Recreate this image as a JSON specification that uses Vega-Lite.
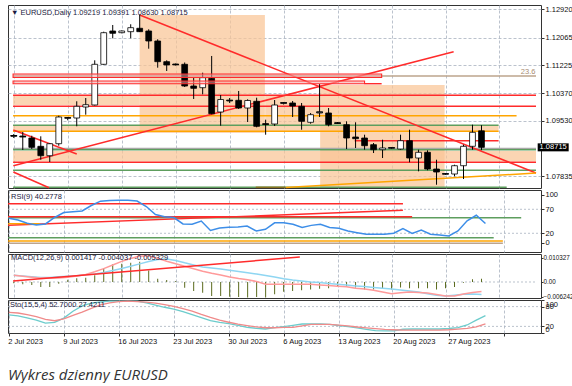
{
"$schema": "https://vega.github.io/schema/vega-lite/v6.json",
"padding": {"left": 5, "top": 4, "right": 0, "bottom": 0},
"background": "white",
"spacing": 2,
"bounds": "flush",
"title": {"text": "Wykres dzienny EURUSD", "orient": "bottom", "anchor": "start", "frame": "group", "font": "Open Sans", "fontSize": 15, "fontStyle": "italic", "fontWeight": "normal", "color": "#333333", "offset": 23},
"config": {
  "view": {"stroke": "#333333", "strokeWidth": 1},
  "axis": {"labelFont": "Liberation Sans", "labelFontSize": 7.5, "labelColor": "#111111", "gridColor": "#aab3c0", "gridDash": [3, 2], "gridWidth": 0.8, "tickColor": "#333333", "labelOverlap": false, "labelBound": false},
  "title": {"font": "Liberation Sans", "fontSize": 7.5, "fontWeight": "normal", "color": "#1a1a40", "anchor": "start", "frame": "group"}
},
"datasets": {
  "candles": [
    {"i":0,"o":1.09046,"h":1.09122,"l":1.09000,"c":1.09076},
    {"i":1,"o":1.09061,"h":1.09183,"l":1.08634,"c":1.09037},
    {"i":2,"o":1.09000,"h":1.09070,"l":1.08664,"c":1.08716},
    {"i":3,"o":1.08747,"h":1.09052,"l":1.08338,"c":1.08460},
    {"i":4,"o":1.08460,"h":1.08847,"l":1.08268,"c":1.08826},
    {"i":5,"o":1.08826,"h":1.09680,"l":1.08765,"c":1.09641},
    {"i":6,"o":1.09601,"h":1.09641,"l":1.09540,"c":1.09619},
    {"i":7,"o":1.09610,"h":1.10120,"l":1.09357,"c":1.09967},
    {"i":8,"o":1.09946,"h":1.10220,"l":1.09711,"c":1.10016},
    {"i":9,"o":1.10007,"h":1.11370,"l":1.09991,"c":1.11248},
    {"i":10,"o":1.11248,"h":1.12243,"l":1.11233,"c":1.12212},
    {"i":11,"o":1.12264,"h":1.12447,"l":1.12041,"c":1.12194},
    {"i":12,"o":1.12212,"h":1.12279,"l":1.12194,"c":1.12264},
    {"i":13,"o":1.12243,"h":1.12469,"l":1.12041,"c":1.12365},
    {"i":14,"o":1.12347,"h":1.12752,"l":1.12234,"c":1.12243},
    {"i":15,"o":1.12264,"h":1.12316,"l":1.11724,"c":1.11959},
    {"i":16,"o":1.11959,"h":1.12011,"l":1.11145,"c":1.11328},
    {"i":17,"o":1.11328,"h":1.11370,"l":1.11044,"c":1.11227},
    {"i":18,"o":1.11257,"h":1.11273,"l":1.11212,"c":1.11236},
    {"i":19,"o":1.11248,"h":1.11303,"l":1.10556,"c":1.10586},
    {"i":20,"o":1.10586,"h":1.10840,"l":1.10190,"c":1.10516},
    {"i":21,"o":1.10534,"h":1.10992,"l":1.10333,"c":1.10840},
    {"i":22,"o":1.10821,"h":1.11502,"l":1.09723,"c":1.09741},
    {"i":23,"o":1.09793,"h":1.10312,"l":1.09375,"c":1.10174},
    {"i":24,"o":1.10129,"h":1.10220,"l":1.10068,"c":1.10150},
    {"i":25,"o":1.10150,"h":1.10434,"l":1.09885,"c":1.09915},
    {"i":26,"o":1.09915,"h":1.10181,"l":1.09488,"c":1.10144},
    {"i":27,"o":1.10120,"h":1.10229,"l":1.09326,"c":1.09357},
    {"i":28,"o":1.09436,"h":1.09558,"l":1.09101,"c":1.09418},
    {"i":29,"o":1.09427,"h":1.10159,"l":1.09366,"c":1.10007},
    {"i":30,"o":1.10052,"h":1.10098,"l":1.10022,"c":1.10077},
    {"i":31,"o":1.10068,"h":1.10129,"l":1.09641,"c":1.09976},
    {"i":32,"o":1.09967,"h":1.10068,"l":1.09253,"c":1.09509},
    {"i":33,"o":1.09479,"h":1.09763,"l":1.09436,"c":1.09711},
    {"i":34,"o":1.09763,"h":1.10647,"l":1.09641,"c":1.09793},
    {"i":35,"o":1.09763,"h":1.09915,"l":1.09357,"c":1.09406},
    {"i":36,"o":1.09467,"h":1.09488,"l":1.09427,"c":1.09448},
    {"i":37,"o":1.09406,"h":1.09509,"l":1.08664,"c":1.09000},
    {"i":38,"o":1.09030,"h":1.09479,"l":1.08695,"c":1.08979},
    {"i":39,"o":1.09000,"h":1.09101,"l":1.08643,"c":1.08765},
    {"i":40,"o":1.08796,"h":1.08847,"l":1.08542,"c":1.08643},
    {"i":41,"o":1.08643,"h":1.08948,"l":1.08390,"c":1.08695},
    {"i":42,"o":1.08686,"h":1.08725,"l":1.08664,"c":1.08704},
    {"i":43,"o":1.08664,"h":1.09101,"l":1.08643,"c":1.08918},
    {"i":44,"o":1.08918,"h":1.09253,"l":1.08259,"c":1.08390},
    {"i":45,"o":1.08390,"h":1.08643,"l":1.07984,"c":1.08564},
    {"i":46,"o":1.08564,"h":1.08625,"l":1.08015,"c":1.08054},
    {"i":47,"o":1.08054,"h":1.08338,"l":1.07575,"c":1.07963},
    {"i":48,"o":1.07893,"h":1.07932,"l":1.07871,"c":1.07911},
    {"i":49,"o":1.07902,"h":1.08186,"l":1.07832,"c":1.08155},
    {"i":50,"o":1.08155,"h":1.08796,"l":1.07749,"c":1.08747},
    {"i":51,"o":1.08747,"h":1.09406,"l":1.08643,"c":1.09174},
    {"i":52,"o":1.09219,"h":1.09391,"l":1.08630,"c":1.08715}
  ],
  "ind": [
    {"i":0,"rsi":51.3,"macd":0.00288,"sig":0.00288,"hist":-0.00056,"k":54.8,"d":62.2},
    {"i":1,"rsi":47.7,"macd":0.00250,"sig":0.00258,"hist":-0.00099,"k":52.2,"d":60.6},
    {"i":2,"rsi":40.8,"macd":0.00207,"sig":0.00228,"hist":-0.00129,"k":46.1,"d":55.5},
    {"i":3,"rsi":37.3,"macd":0.00172,"sig":0.00198,"hist":-0.00215,"k":38.8,"d":49.4},
    {"i":4,"rsi":39.4,"macd":0.00168,"sig":0.00198,"hist":-0.00215,"k":29.8,"d":41.6},
    {"i":5,"rsi":52.9,"macd":0.00176,"sig":0.00224,"hist":-0.00073,"k":32.3,"d":37.1},
    {"i":6,"rsi":63.3,"macd":0.00202,"sig":0.00245,"hist":0.00100,"k":45.2,"d":42.6},
    {"i":7,"rsi":65.0,"macd":0.00258,"sig":0.00271,"hist":0.00159,"k":66.1,"d":53.5},
    {"i":8,"rsi":66.5,"macd":0.00323,"sig":0.00310,"hist":0.00185,"k":82.1,"d":63.2},
    {"i":9,"rsi":77.9,"macd":0.00443,"sig":0.00344,"hist":0.00288,"k":90.2,"d":74.4},
    {"i":10,"rsi":86.9,"macd":0.00577,"sig":0.00413,"hist":0.00590,"k":94.0,"d":85.0},
    {"i":11,"rsi":88.3,"macd":0.00731,"sig":0.00495,"hist":0.00760,"k":96.3,"d":91.1},
    {"i":12,"rsi":88.8,"macd":0.00886,"sig":0.00581,"hist":0.00790,"k":96.6,"d":95.0},
    {"i":13,"rsi":88.8,"macd":0.01011,"sig":0.00676,"hist":0.00830,"k":96.6,"d":96.6},
    {"i":14,"rsi":87.3,"macd":0.01119,"sig":0.00779,"hist":0.00870,"k":96.6,"d":95.3},
    {"i":15,"rsi":75.8,"macd":0.01119,"sig":0.00878,"hist":0.00500,"k":91.1,"d":93.4},
    {"i":16,"rsi":59.2,"macd":0.01024,"sig":0.00972,"hist":0.00140,"k":84.4,"d":90.5},
    {"i":17,"rsi":54.6,"macd":0.00890,"sig":0.00990,"hist":0.00090,"k":78.0,"d":86.0},
    {"i":18,"rsi":52.7,"macd":0.00783,"sig":0.00929,"hist":0.00040,"k":72.5,"d":80.8},
    {"i":19,"rsi":39.4,"macd":0.00676,"sig":0.00826,"hist":-0.00245,"k":64.5,"d":73.8},
    {"i":20,"rsi":38.8,"macd":0.00568,"sig":0.00736,"hist":-0.00387,"k":55.8,"d":66.4},
    {"i":21,"rsi":45.6,"macd":0.00465,"sig":0.00645,"hist":-0.00460,"k":46.8,"d":56.4},
    {"i":22,"rsi":25.8,"macd":0.00374,"sig":0.00602,"hist":-0.00600,"k":37.8,"d":47.1},
    {"i":23,"rsi":31.0,"macd":0.00297,"sig":0.00555,"hist":-0.00600,"k":32.3,"d":38.8},
    {"i":24,"rsi":32.5,"macd":0.00219,"sig":0.00503,"hist":-0.00630,"k":28.5,"d":32.6},
    {"i":25,"rsi":33.3,"macd":0.00151,"sig":0.00448,"hist":-0.00650,"k":23.3,"d":26.9},
    {"i":26,"rsi":35.2,"macd":0.00095,"sig":0.00396,"hist":-0.00670,"k":16.9,"d":22.4},
    {"i":27,"rsi":24.8,"macd":0.00022,"sig":0.00344,"hist":-0.00650,"k":14.3,"d":18.5},
    {"i":28,"rsi":28.3,"macd":-0.00095,"sig":0.00275,"hist":-0.00670,"k":12.1,"d":15.9},
    {"i":29,"rsi":41.9,"macd":-0.00099,"sig":0.00211,"hist":-0.00530,"k":16.3,"d":15.9},
    {"i":30,"rsi":42.1,"macd":-0.00099,"sig":0.00142,"hist":-0.00420,"k":19.5,"d":16.9},
    {"i":31,"rsi":38.8,"macd":-0.00099,"sig":0.00086,"hist":-0.00390,"k":23.3,"d":17.2},
    {"i":32,"rsi":31.9,"macd":-0.00099,"sig":0.00047,"hist":-0.00360,"k":27.2,"d":21.4},
    {"i":33,"rsi":36.5,"macd":-0.00099,"sig":0.00004,"hist":-0.00320,"k":27.8,"d":25.9},
    {"i":34,"rsi":38.8,"macd":-0.00125,"sig":-0.00026,"hist":-0.00290,"k":27.2,"d":25.9},
    {"i":35,"rsi":31.9,"macd":-0.00155,"sig":-0.00065,"hist":-0.00270,"k":25.9,"d":25.9},
    {"i":36,"rsi":30.4,"macd":-0.00181,"sig":-0.00099,"hist":-0.00220,"k":22.7,"d":24.0},
    {"i":37,"rsi":24.8,"macd":-0.00207,"sig":-0.00133,"hist":-0.00220,"k":19.2,"d":21.7},
    {"i":38,"rsi":21.3,"macd":-0.00271,"sig":-0.00168,"hist":-0.00240,"k":15.3,"d":18.2},
    {"i":39,"rsi":18.1,"macd":-0.00306,"sig":-0.00198,"hist":-0.00320,"k":11.1,"d":15.6},
    {"i":40,"rsi":17.9,"macd":-0.00357,"sig":-0.00232,"hist":-0.00320,"k":7.3,"d":13.4},
    {"i":41,"rsi":17.9,"macd":-0.00430,"sig":-0.00267,"hist":-0.00270,"k":6.6,"d":11.1},
    {"i":42,"rsi":20.0,"macd":-0.00503,"sig":-0.00306,"hist":-0.00320,"k":6.6,"d":9.8},
    {"i":43,"rsi":29.6,"macd":-0.00465,"sig":-0.00344,"hist":-0.00240,"k":11.4,"d":8.9},
    {"i":44,"rsi":19.6,"macd":-0.00430,"sig":-0.00387,"hist":-0.00270,"k":12.1,"d":8.9},
    {"i":45,"rsi":26.9,"macd":-0.00456,"sig":-0.00426,"hist":-0.00270,"k":12.1,"d":8.9},
    {"i":46,"rsi":18.1,"macd":-0.00478,"sig":-0.00508,"hist":-0.00270,"k":12.1,"d":8.9},
    {"i":47,"rsi":16.5,"macd":-0.00542,"sig":-0.00568,"hist":-0.00320,"k":12.1,"d":8.9},
    {"i":48,"rsi":14.4,"macd":-0.00602,"sig":-0.00602,"hist":-0.00270,"k":13.7,"d":9.8},
    {"i":49,"rsi":24.8,"macd":-0.00598,"sig":-0.00568,"hist":-0.00220,"k":16.3,"d":11.8},
    {"i":50,"rsi":46.0,"macd":-0.00521,"sig":-0.00529,"hist":-0.00030,"k":24.3,"d":14.3},
    {"i":51,"rsi":57.5,"macd":-0.00452,"sig":-0.00516,"hist":0.00120,"k":38.8,"d":18.8},
    {"i":52,"rsi":40.28,"macd":-0.00404,"sig":-0.00533,"hist":0.00142,"k":52.7,"d":27.42}
  ],
  "zones": [
    {"x1":13.99,"x2":27.92,"p1":1.12752,"p2":1.09152},
    {"x1":-0.08,"x2":14.0,"p1":1.10281,"p2":1.10007},
    {"x1":-0.08,"x2":53.9,"p1":1.09387,"p2":1.09183},
    {"x1":-0.08,"x2":58.06,"p1":1.08603,"p2":1.08283},
    {"x1":34.06,"x2":47.9,"p1":1.10617,"p2":1.07475},
    {"x1":27.95,"x2":34.06,"p1":1.10281,"p2":1.09397}
  ],
  "bands": [
    {"x1":-0.08,"x2":40.9,"p1":1.10952,"p2":1.10846},
    {"x1":-0.08,"x2":39.0,"p1":1.10739,"p2":1.10656}
  ],
  "lines": [
    {"kind":"resistance","x1":39.0,"x2":40.9,"p1":1.10656,"p2":1.10656},
    {"kind":"fibonacci","x1":-0.08,"x2":58.06,"p1":1.10891,"p2":1.10891},
    {"kind":"resistance","x1":-0.08,"x2":58.06,"p1":1.10303,"p2":1.10303},
    {"kind":"resistance","x1":-0.08,"x2":58.06,"p1":1.09967,"p2":1.09967},
    {"kind":"pivot","x1":-0.08,"x2":55.9,"p1":1.09680,"p2":1.09680},
    {"kind":"support","x1":-0.08,"x2":53.9,"p1":1.09387,"p2":1.09387},
    {"kind":"pivot","x1":-0.08,"x2":53.9,"p1":1.09204,"p2":1.09204},
    {"kind":"resistance","x1":37.9,"x2":53.9,"p1":1.08918,"p2":1.08918},
    {"kind":"bid","x1":-0.08,"x2":58.06,"p1":1.08680,"p2":1.08680},
    {"kind":"support","x1":-0.08,"x2":58.06,"p1":1.08640,"p2":1.08640},
    {"kind":"resistance","x1":-0.08,"x2":58.06,"p1":1.08259,"p2":1.08259},
    {"kind":"support","x1":-0.08,"x2":58.06,"p1":1.08015,"p2":1.08015},
    {"kind":"support","x1":-0.08,"x2":54.8,"p1":1.07496,"p2":1.07496},
    {"kind":"volume node","x1":26.9,"x2":30.2,"p1":1.07496,"p2":1.07496},
    {"kind":"trend","x1":14.0,"x2":58.06,"p1":1.12752,"p2":1.07932},
    {"kind":"trend","x1":-0.05,"x2":48.9,"p1":1.08155,"p2":1.11633},
    {"kind":"trend","x1":-0.05,"x2":7.0,"p1":1.09244,"p2":1.08512},
    {"kind":"trend","x1":-0.05,"x2":3.92,"p1":1.07963,"p2":1.07484},
    {"kind":"trend support","x1":30.24,"x2":58.06,"p1":1.0749,"p2":1.07932}
  ],
  "tags": [{"label":"1.08715","price":1.08715,"at":59.97}],
  "fib": [{"label":"23.6","price":1.10891,"at":58.0}],
  "rsiLines": [
    {"kind":"overbought","x1":-0.08,"x2":43,"v1":81.7,"v2":81.7},
    {"kind":"support","x1":-0.08,"x2":55.9,"v1":52.5,"v2":52.5},
    {"kind":"resistance","x1":-0.08,"x2":44,"v1":54.6,"v2":54.6},
    {"kind":"trend","x1":-0.08,"x2":43,"v1":36.7,"v2":67.9},
    {"kind":"pivot","x1":-0.08,"x2":3.35,"v1":40,"v2":40},
    {"kind":"oversold","x1":-0.08,"x2":52.9,"v1":10.8,"v2":10.8},
    {"kind":"level","x1":-0.08,"x2":53.9,"v1":4,"v2":4},
    {"kind":"floor","x1":-0.08,"x2":53.9,"v1":-0.8,"v2":-0.8}
  ],
  "rsiLevels": [{"v":70,"x1":-0.087,"x2":58.06},{"v":20,"x1":-0.087,"x2":58.06}],
  "stoLevels": [{"v":80,"x1":-0.087,"x2":58.06},{"v":20,"x1":-0.087,"x2":58.06}],
  "macdLevels": [{"v":0,"x1":-0.087,"x2":58.06}],
  "macdLines": [
    {"kind":"trend","x1":-0.08,"x2":31.8,"v1":0.00043,"v2":0.01076}
  ]
},
"vconcat": [
  {
    "width": 533, "height": 183,
    "title": {"text": "▼ EURUSD,Daily  1.09219 1.09391 1.08630 1.08715", "offset": -11, "dx": 3},
    "resolve": {"axis": {"y": "independent"}},
    "layer": [
      {"layer": [
        {"data": {"name": "zones"}, "mark": {"type": "rect", "color": "#f9c596", "opacity": 0.72},
         "encoding": {
           "x": {"field": "x1", "type": "quantitative", "title": null, "scale": {"domain": [-0.087, 58.06], "nice": false, "zero": false},
                 "axis": {"values": [0,3,6,9,12,15,18,21,24,27,30,33,36,39,42,45,48,51,54,57], "labels": false, "ticks": false, "domain": false, "grid": true, "title": null}},
           "x2": {"field": "x2"},
           "y": {"field": "p1", "type": "quantitative", "title": null, "scale": {"domain": [1.07475, 1.13057], "nice": false, "zero": false},
                 "axis": {"orient": "right", "values": [1.1292, 1.11225, 1.0953, 1.07835], "format": ".5f", "labelOverlap": false, "grid": true, "tickSize": 3, "domain": false, "labelPadding": 1, "labelFlush": false, "title": null}},
           "y2": {"field": "p2"}
         }},
        {"data": {"name": "lines"}, "mark": {"type": "rule"},
         "encoding": {
           "x": {"field": "x1", "type": "quantitative", "title": null},
           "x2": {"field": "x2"},
           "y": {"field": "p1", "type": "quantitative", "title": null},
           "y2": {"field": "p2"},
           "color": {"field": "kind", "type": "nominal", "legend": null, "scale": {"domain": ["resistance","support","pivot","fibonacci","trend","trend support","volume node","bid"], "range": ["#ff2b2b","#5e9e5e","#ffa500","#bda48c","#ff2b2b","#ffa500","#8a7420","#a8a8a8"]}},
           "strokeWidth": {"field": "kind", "type": "nominal", "legend": null, "scale": {"domain": ["resistance","support","pivot","fibonacci","trend","trend support","volume node","bid"], "range": [1.4,1.6,2,1.2,1.4,1.6,2.5,1]}}
         }},
        {"data": {"name": "candles"}, "mark": {"type": "rule", "color": "#000000", "strokeWidth": 1},
         "encoding": {
           "x": {"field": "i", "type": "quantitative", "title": null},
           "y": {"field": "l", "type": "quantitative", "title": null},
           "y2": {"field": "h"}
         }},
        {"data": {"name": "candles"}, "mark": {"type": "bar", "orient": "vertical", "size": 5.8, "stroke": "#000000", "strokeWidth": 0.8},
         "encoding": {
           "x": {"field": "i", "type": "quantitative", "title": null},
           "y": {"field": "o", "type": "quantitative", "title": null},
           "y2": {"field": "c"},
           "fill": {"condition": {"test": "datum.c >= datum.o", "value": "#ffffff"}, "value": "#000000"}
         }},
        {"data": {"name": "candles"}, "transform": [{"filter": "abs(datum.o - datum.c) < 0.0004"}],
         "mark": {"type": "tick", "orient": "horizontal", "size": 6.6, "thickness": 1, "color": "#000000", "opacity": 1},
         "encoding": {
           "x": {"field": "i", "type": "quantitative", "title": null},
           "y": {"field": "c", "type": "quantitative", "title": null}
         }},
        {"data": {"name": "fib"}, "mark": {"type": "text", "align": "right", "baseline": "bottom", "dy": -0.5, "font": "Liberation Sans", "fontSize": 7.5, "color": "#a88c72"},
         "encoding": {
           "x": {"field": "at", "type": "quantitative", "title": null},
           "y": {"field": "price", "type": "quantitative", "title": null},
           "text": {"field": "label"}
         }},
        {"data": {"name": "tags"}, "mark": {"type": "tick", "orient": "horizontal", "size": 31, "thickness": 8, "color": "#000000", "opacity": 1},
         "encoding": {
           "x": {"field": "at", "type": "quantitative", "title": null},
           "y": {"field": "price", "type": "quantitative", "title": null}
         }},
        {"data": {"name": "tags"}, "mark": {"type": "text", "align": "center", "baseline": "middle", "font": "Liberation Sans", "fontSize": 7.5, "color": "#ffffff"},
         "encoding": {
           "x": {"field": "at", "type": "quantitative", "title": null},
           "y": {"field": "price", "type": "quantitative", "title": null},
           "text": {"field": "label"}
         }}
      ]},
      {"data": {"name": "bands"}, "mark": {"type": "rect", "fill": "#f3a6a6", "fillOpacity": 0.55, "stroke": "#ff2b2b", "strokeWidth": 1.1},
       "encoding": {
         "x": {"field": "x1", "type": "quantitative", "title": null},
         "x2": {"field": "x2"},
         "y": {"field": "p1", "type": "quantitative", "title": null,
               "axis": {"orient": "right", "values": [1.12065, 1.1037], "format": ".5f", "labelOverlap": false, "grid": true, "tickSize": 3, "domain": false, "labelPadding": 1, "labelFlush": false, "title": null}},
         "y2": {"field": "p2"}
       }}
    ]
  },
  {
    "width": 533, "height": 62,
    "title": {"text": "RSI(9) 40.2778", "offset": -10.5, "dx": 3},
    "resolve": {"axis": {"y": "independent"}},
    "layer": [
      {"layer": [
        {"data": {"name": "rsiLevels"}, "mark": {"type": "rule", "color": "#aab3c0", "strokeDash": [2, 2], "strokeWidth": 0.8},
         "encoding": {
           "x": {"field": "x1", "type": "quantitative", "title": null, "scale": {"domain": [-0.087, 58.06], "nice": false, "zero": false},
                 "axis": {"values": [0,3,6,9,12,15,18,21,24,27,30,33,36,39,42,45,48,51,54,57], "labels": false, "ticks": false, "domain": false, "grid": true, "title": null}},
           "x2": {"field": "x2"},
           "y": {"field": "v", "type": "quantitative", "title": null, "scale": {"domain": [-19, 110.2], "nice": false, "zero": false},
                 "axis": {"orient": "right", "values": [100, 20], "labelOverlap": false, "grid": false, "tickSize": 3, "domain": false, "labelPadding": 1, "labelFlush": false, "title": null}}
         }},
        {"data": {"name": "rsiLines"}, "mark": {"type": "rule"},
         "encoding": {
           "x": {"field": "x1", "type": "quantitative", "title": null},
           "x2": {"field": "x2"},
           "y": {"field": "v1", "type": "quantitative", "title": null},
           "y2": {"field": "v2"},
           "color": {"field": "kind", "type": "nominal", "legend": null, "scale": {"domain": ["overbought","trend","resistance","support","pivot","oversold","level","floor"], "range": ["#ff8a6a","#ff2b2b","#a0522d","#5e9e5e","#ffb300","#ff8a6a","#f3e3b3","#b455e6"]}},
           "strokeWidth": {"field": "kind", "type": "nominal", "legend": null, "scale": {"domain": ["overbought","trend","resistance","support","pivot","oversold","level","floor"], "range": [2,1.5,2,1.6,2,2,2,2]}}
         }}
      ]},
      {"data": {"name": "ind"}, "mark": {"type": "line", "color": "#3d8ee8", "strokeWidth": 1.5},
       "encoding": {
         "x": {"field": "i", "type": "quantitative", "title": null},
         "y": {"field": "rsi", "type": "quantitative", "title": null,
               "axis": {"orient": "right", "values": [70, 0], "labelOverlap": false, "grid": false, "tickSize": 3, "domain": false, "labelPadding": 1, "labelFlush": false, "title": null}}
       }}
    ]
  },
  {
    "width": 533, "height": 44,
    "title": {"text": "MACD(12,26,9) 0.001417 -0.004037 -0.005329", "offset": -8.6, "dx": 3},
    "resolve": {"axis": {"y": "independent"}},
    "layer": [
      {"layer": [
        {"data": {"name": "macdLevels"}, "mark": {"type": "rule", "color": "#aab3c0", "strokeDash": [2, 2], "strokeWidth": 0.8},
         "encoding": {
           "x": {"field": "x1", "type": "quantitative", "title": null, "scale": {"domain": [-0.087, 58.06], "nice": false, "zero": false},
                 "axis": {"values": [0,3,6,9,12,15,18,21,24,27,30,33,36,39,42,45,48,51,54,57], "labels": false, "ticks": false, "domain": false, "grid": true, "title": null}},
           "x2": {"field": "x2"},
           "y": {"field": "v", "type": "quantitative", "title": null, "scale": {"domain": [-0.006885, 0.012048], "nice": false, "zero": false},
                 "axis": {"orient": "right", "values": [0.010327, -0.006242], "format": ".6f", "labelOverlap": false, "labelFontSize": 6.3, "grid": false, "tickSize": 2, "domain": false, "labelPadding": 0, "labelFlush": false, "title": null}}
         }},
        {"data": {"name": "ind"}, "mark": {"type": "bar", "orient": "vertical", "size": 1, "color": "#5b6b1f"},
         "encoding": {
           "x": {"field": "i", "type": "quantitative", "title": null},
           "y": {"field": "hist", "type": "quantitative", "title": null}
         }},
        {"data": {"name": "ind"}, "mark": {"type": "line", "color": "#8fd6f2", "strokeWidth": 1.5},
         "encoding": {
           "x": {"field": "i", "type": "quantitative", "title": null},
           "y": {"field": "sig", "type": "quantitative", "title": null}
         }},
        {"data": {"name": "ind"}, "mark": {"type": "line", "color": "#ff9a9a", "strokeWidth": 1.5},
         "encoding": {
           "x": {"field": "i", "type": "quantitative", "title": null},
           "y": {"field": "macd", "type": "quantitative", "title": null}
         }}
      ]},
      {"data": {"name": "macdLines"}, "mark": {"type": "rule", "color": "#ff2b2b", "strokeWidth": 1.5},
       "encoding": {
         "x": {"field": "x1", "type": "quantitative", "title": null},
         "x2": {"field": "x2"},
         "y": {"field": "v1", "type": "quantitative", "title": null,
               "axis": {"orient": "right", "values": [0], "format": ".2f", "labelOverlap": false, "labelFontSize": 6.3, "grid": false, "tickSize": 2, "domain": false, "labelPadding": 0, "labelFlush": false, "title": null}},
         "y2": {"field": "v2"}
       }}
    ]
  },
  {
    "width": 533, "height": 33,
    "title": {"text": "Sto(15,5,4) 52.7000 27.4211", "offset": -10.3, "dx": 2},
    "resolve": {"axis": {"y": "independent"}},
    "layer": [
      {"layer": [
        {"data": {"name": "stoLevels"}, "mark": {"type": "rule", "color": "#aab3c0", "strokeDash": [2, 2], "strokeWidth": 0.8},
         "encoding": {
           "x": {"field": "x1", "type": "quantitative", "title": null, "scale": {"domain": [-0.087, 58.06], "nice": false, "zero": false},
                 "axis": {"values": [0,3,6,9,12,15,18,21,24,27,30,33,36,39,42,45,48,51,54,57], "labelExpr": "datum.value % 6 == 0 ? ['2 Jul 2023','9 Jul 2023','16 Jul 2023','23 Jul 2023','30 Jul 2023','6 Aug 2023','13 Aug 2023','20 Aug 2023','27 Aug 2023',''][datum.value / 6] : ''", "labelOverlap": false, "labelAlign": "left", "labelOffset": -1, "labelFlush": false, "tickSize": 3, "labelPadding": 1, "domain": false, "grid": true, "title": null}},
           "x2": {"field": "x2"},
           "y": {"field": "v", "type": "quantitative", "title": null, "scale": {"domain": [0, 100], "nice": false, "zero": false},
                 "axis": {"orient": "right", "values": [100, 20], "labelOverlap": false, "grid": false, "tickSize": 3, "domain": false, "labelPadding": 1, "labelFlush": true, "title": null}}
         }},
        {"data": {"name": "ind"}, "mark": {"type": "line", "color": "#6ccccc", "strokeWidth": 1.3},
         "encoding": {
           "x": {"field": "i", "type": "quantitative", "title": null},
           "y": {"field": "k", "type": "quantitative", "title": null}
         }}
      ]},
      {"data": {"name": "ind"}, "mark": {"type": "line", "color": "#f08a8a", "strokeWidth": 1.3},
       "encoding": {
         "x": {"field": "i", "type": "quantitative", "title": null},
         "y": {"field": "d", "type": "quantitative", "title": null,
               "axis": {"orient": "right", "values": [80, 0], "labelOverlap": false, "grid": false, "tickSize": 3, "domain": false, "labelPadding": 1, "labelFlush": true, "title": null}}
       }}
    ]
  }
]
}
